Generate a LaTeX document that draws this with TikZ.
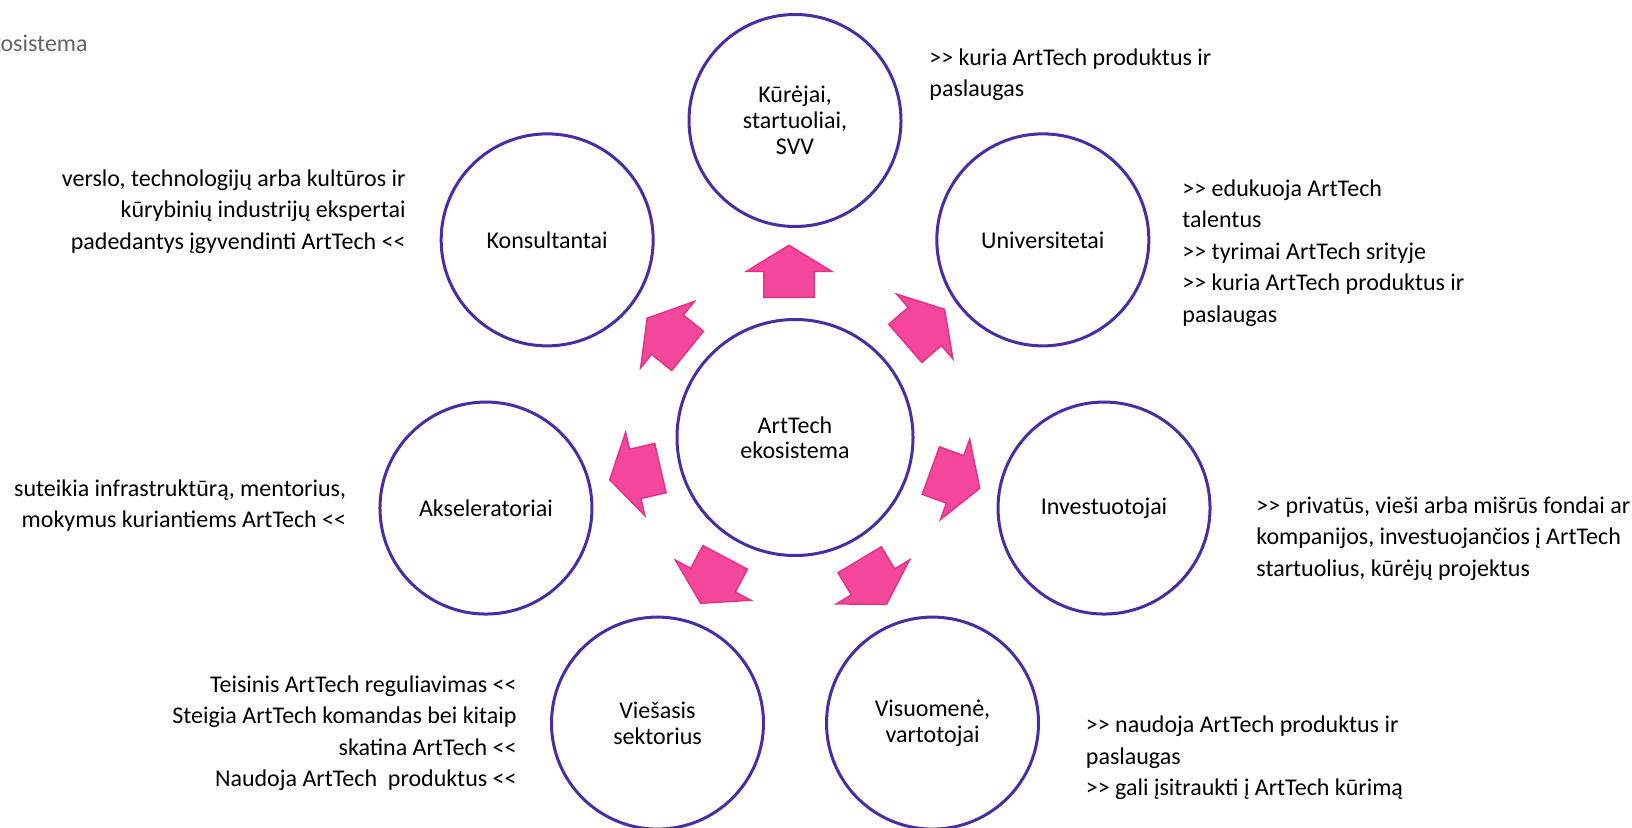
\documentclass[tikz,border=0pt]{standalone}
\usepackage{fontspec}
\setmainfont{Carlito}[Ligatures=TeXOff]
\usetikzlibrary{calc,shapes.arrows,positioning}

\definecolor{ringblue}{RGB}{72,45,165}
\definecolor{arrowpink}{RGB}{244,70,155}
\definecolor{arrowedge}{RGB}{226,52,135}
\definecolor{titlegray}{RGB}{100,100,100}

\tikzset{
  hub/.style={circle, draw=ringblue, line width=1.5pt, minimum size=118pt, inner sep=0pt,
    align=center, font=\fontsize{12}{12.5}\selectfont},
  member/.style={circle, draw=ringblue, line width=1.5pt, minimum size=106pt, inner sep=0pt,
    align=center, font=\fontsize{12}{13}\selectfont},
  push/.style={single arrow, fill=arrowpink, draw=arrowedge, line width=0.75pt,
    minimum height=26pt, minimum width=42pt, single arrow head extend=8.75pt,
    single arrow tip angle=117, inner xsep=0pt, inner ysep=12.25pt},
  note/.style={font=\fontsize{12}{15.75}\selectfont, inner sep=0pt}
}

\begin{document}
\begin{tikzpicture}[x=0.5pt, y=0.5pt]
	\useasboundingbox (0,0) rectangle (1632,827);

	% Title (cut at the left edge)
	\node[note, text=titlegray, anchor=base east] (title) at (88,776) {ekosistema};

	% Centre
	\node[hub] (eco) at (795,389.5) {ArtTech\\ekosistema};

	% Ring of actors
	\node[member] (kurejai) at ($(eco)+(90:317)$) {Kūrėjai,\\startuoliai,\\SVV};
	\node[member] (univ) at ($(eco)+(38.57:317)$) {Universitetai};
	\node[member] (invest) at ($(eco)+(-12.86:317)$) {Investuotojai};
	\node[member] (visuom) at ($(eco)+(-64.29:317)$) {Visuomenė,\\vartotojai};
	\node[member] (viesas) at ($(eco)+(-115.71:317)$) {Viešasis\\sektorius};
	\node[member] (aksel) at ($(eco)+(-167.14:317)$) {Akseleratoriai};
	\node[member] (konsul) at ($(eco)+(141.43:317)$) {Konsultantai};

	% Block arrows
	\node[push, rotate=90] (toKurejai) at ($(eco)+(-6,158.5)$) {};
	\node[push, rotate=41] (toUniv) at ($(eco)+(124.1,106.1)$) {};
	\node[push, rotate=-20] (toInvest) at ($(eco)+(153,-39.3)$) {};
	\node[push, rotate=-59] (toVisuom) at ($(eco)+(74.1,-137.9)$) {};
	\node[push, rotate=-118] (toViesas) at ($(eco)+(-78.4,-136)$) {};
	\node[push, rotate=-167] (toAksel) at ($(eco)+(-152.4,-34.7)$) {};
	\node[push, rotate=141] (toKonsul) at ($(eco)+(-121.6,98.1)$) {};

	% Notes (placed by the baseline of their last line)
	\node[note, anchor=base west, align=left] (kurNote) at (929,730.5)
		{>> kuria ArtTech produktus ir\\paslaugas};
	\node[note, anchor=base west, align=left] (univNote) at (1182,505)
		{>> edukuoja ArtTech\\talentus\\>> tyrimai ArtTech srityje\\>> kuria ArtTech produktus ir\\paslaugas};
	\node[note, anchor=base west, align=left] (investNote) at (1256,251)
		{>> privatūs, vieši arba mišrūs fondai ar\\kompanijos, investuojančios į ArtTech\\startuolius, kūrėjų projektus};
	\node[note, anchor=base west, align=left] (visuomNote) at (1085.5,31.5)
		{>> naudoja ArtTech produktus ir\\paslaugas\\>> gali įsitraukti į ArtTech kūrimą};
	\node[note, anchor=base east, align=right] (viesasNote) at (517,40.5)
		{Teisinis ArtTech reguliavimas <<\\Steigia ArtTech komandas bei kitaip\\skatina ArtTech <<\\Naudoja ArtTech~ produktus <<};
	\node[note, anchor=base east, align=right] (akselNote) at (346.5,299.5)
		{suteikia infrastruktūrą, mentorius,\\mokymus kuriantiems ArtTech <<};
	\node[note, anchor=base east, align=right] (konsulNote) at (406,578)
		{verslo, technologijų arba kultūros ir\\kūrybinių industrijų ekspertai\\padedantys įgyvendinti ArtTech <<};
\end{tikzpicture}
\end{document}
